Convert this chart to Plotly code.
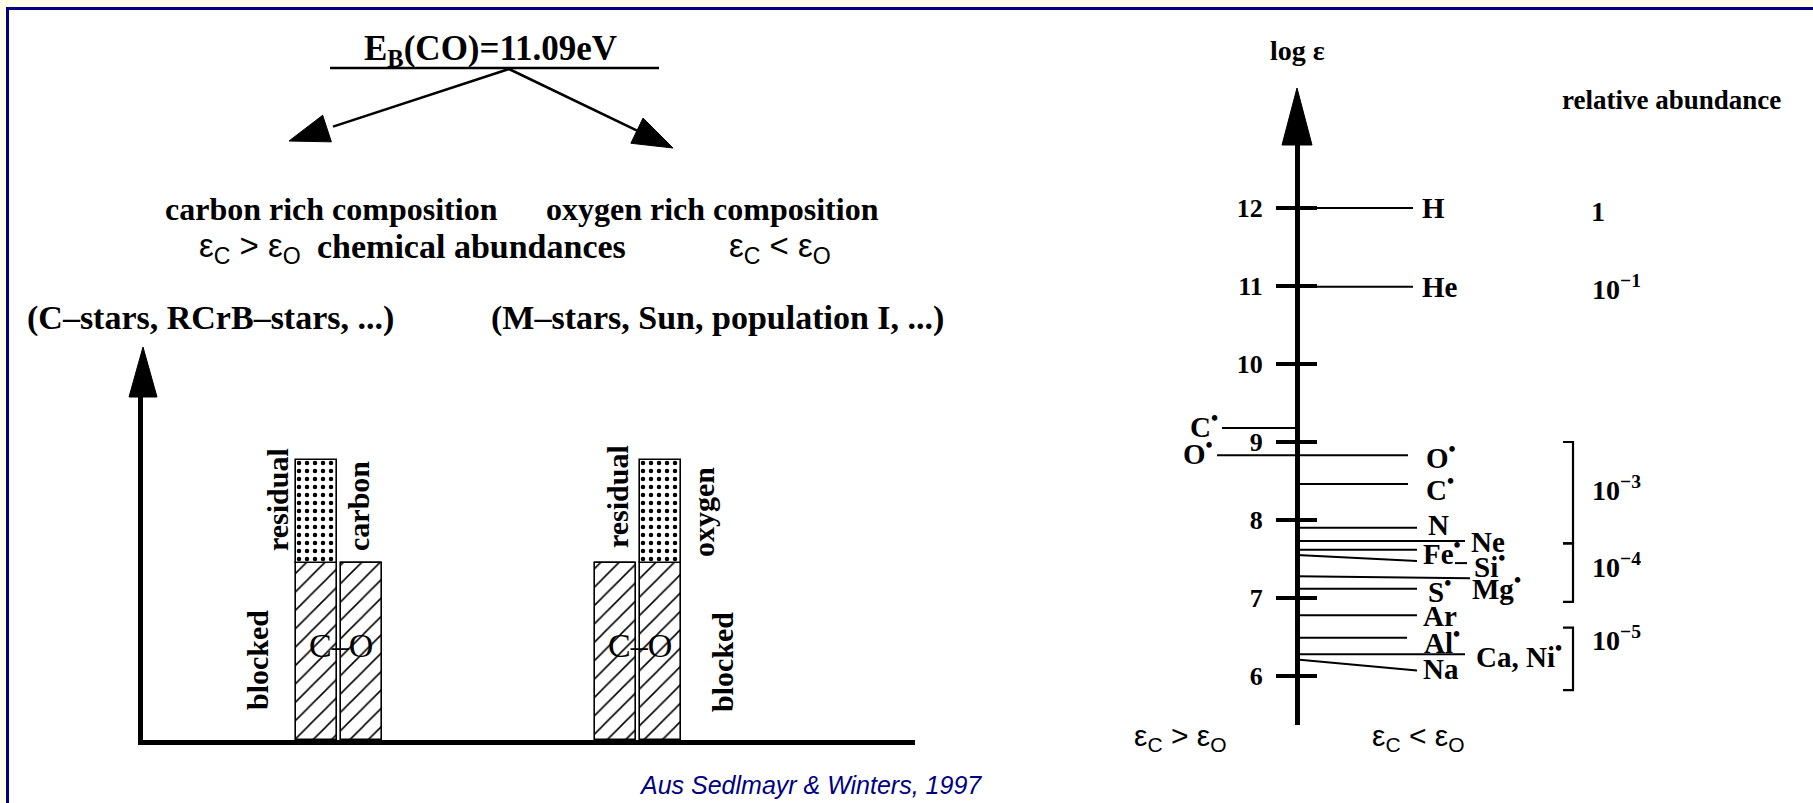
import plotly.graph_objects as go

# ---------------- data ----------------
# Right panel: logarithmic abundances log(eps), hydrogen normalised to 12
right_elements = ["H", "He", "O<sup>•</sup>", "C<sup>•</sup>", "N", "Ne", "Fe<sup>•</sup>",
                  "Si<sup>•</sup>", "Mg<sup>•</sup>", "S<sup>•</sup>", "Ar", "Al<sup>•</sup>",
                  "Ca, Ni<sup>•</sup>", "Na"]
right_log_eps = [12.00, 10.99, 8.83, 8.46, 7.90, 7.73, 7.62, 7.55, 7.28, 7.12, 6.78, 6.49, 6.28, 6.21]

# carbon-rich side of the scale (left of the axis)
left_elements = ["C<sup>•</sup>", "O<sup>•</sup>"]
left_log_eps = [9.18, 8.83]

log_eps_ticks = [6, 7, 8, 9, 10, 11, 12]

# relative abundance classes and the log(eps) spans they bracket
rel_labels = ["1", "10<sup>−1</sup>", "10<sup>−3</sup>", "10<sup>−4</sup>", "10<sup>−5</sup>"]
rel_levels = [11.96, 10.98, 8.40, 7.42, 6.48]
bracket_spans = [(9.00, 7.70), (7.70, 6.95), (6.62, 5.82)]

# Left panel: C and O budget, in units of the CO-blocked amount
column_names = ["residual", "carbon", "residual", "oxygen"]
blocked_co = [1.0, 1.0, 1.0, 1.0]
residual_part = [0.58, 0.0, 0.0, 0.58]

# ---------------- geometry / style ----------------
W, H = 1813, 803
SERIF = "Liberation Serif"
SANS = "Liberation Sans"
INK = "black"

# right scale
AXIS_X = 1297
PX_PER_DEX = 78.0
Y12_PX = 208.0
AX_TOP_PX, AX_BOT_PX = 143.0, 725.0
y2_range = [12 - (AX_BOT_PX - Y12_PX) / PX_PER_DEX, 12 + (Y12_PX - AX_TOP_PX) / PX_PER_DEX]
y2_domain = [(H - AX_BOT_PX) / H, (H - AX_TOP_PX) / H]


def dpx(px):
    """vertical pixel offset (downwards) expressed in dex"""
    return -px / PX_PER_DEX


# left panel
L_AX_X, L_BASE_PX, L_TOP_PX, L_END_X = 143.0, 740.0, 395.0, 915.0
UNIT_PX = 177.0
y3_range = [0, (L_BASE_PX - L_TOP_PX) / UNIT_PX]
y3_domain = [(H - L_BASE_PX) / H, (H - L_TOP_PX) / H]
bar_x = [316.5, 361.5, 615.5, 660.5]
BAR_W = 41

fig = go.Figure()

# ---- bars (hatched blocked part, dotted residual part) ----
fig.add_trace(go.Bar(
    x=bar_x, y=blocked_co, width=BAR_W, xaxis="x3", yaxis="y3",
    marker=dict(color="white", line=dict(color=INK, width=1.6),
                pattern=dict(shape="/", fgcolor=INK, bgcolor="white", size=13,
                             solidity=0.12, fillmode="replace")),
    showlegend=False, hoverinfo="skip"))
fig.add_trace(go.Bar(
    x=bar_x, y=residual_part, base=blocked_co, width=BAR_W, xaxis="x3", yaxis="y3",
    marker=dict(color="white", line=dict(color=INK, width=1.6),
                pattern=dict(shape=".", fgcolor=INK, bgcolor="white", size=8,
                             solidity=0.25, fillmode="replace")),
    showlegend=False, hoverinfo="skip"))

# ---- right panel: element lines ----
right_end_x = [1413, 1413, 1408, 1408, 1417, 1465, 1417, 1417, 1470, 1417, 1417, 1407, 1465, 1417]
right_end_dy = [0, 0, 0, 0, 0, 0, 0, 6, 2, 0, 0, 0, 0, 11]
right_label_x = [1420, 1420, 1424, 1424, 1426, 1469, 1421, 1472, 1470, 1426, 1421, 1422, 1474, 1421]
right_label_dy = [0, 0, 1, 4, -3, 1, 2, 10, 11, 1, 1, 3, 1, 9]

for name, v, xe, edy in zip(right_elements, right_log_eps, right_end_x, right_end_dy):
    fig.add_trace(go.Scatter(
        x=[AXIS_X, xe], y=[v, v + dpx(edy)], xaxis="x", yaxis="y2", mode="lines",
        line=dict(color=INK, width=2), showlegend=False, hoverinfo="skip"))
# short link from the Si line to its label
si = right_elements.index("Si<sup>•</sup>")
fig.add_trace(go.Scatter(
    x=[1455, 1467], y=[right_log_eps[si] + dpx(8)] * 2, xaxis="x", yaxis="y2",
    mode="lines", line=dict(color=INK, width=2), showlegend=False, hoverinfo="skip"))

left_end_x = [1222, 1217]
for v, xe in zip(left_log_eps, left_end_x):
    fig.add_trace(go.Scatter(
        x=[xe, AXIS_X], y=[v, v], xaxis="x", yaxis="y2", mode="lines",
        line=dict(color=INK, width=2), showlegend=False, hoverinfo="skip"))

# brackets for the abundance classes
for top, bot in bracket_spans:
    fig.add_trace(go.Scatter(
        x=[1563, 1573, 1573, 1563], y=[top, top, bot, bot], xaxis="x", yaxis="y2",
        mode="lines", line=dict(color=INK, width=2.2), showlegend=False, hoverinfo="skip"))

# invisible anchor for the mirrored tick axis
fig.add_trace(go.Scatter(x=[AXIS_X], y=[12], xaxis="x", yaxis="y4", mode="markers",
                         marker=dict(opacity=0), showlegend=False, hoverinfo="skip"))

ann = []


def text(x, y, s, size, family=SERIF, xanchor="center", yanchor="middle", angle=0,
         yref="y", color=INK):
    ann.append(dict(x=x, y=y, xref="x", yref=yref, text=s, showarrow=False,
                    font=dict(family=family, size=size, color=color),
                    xanchor=xanchor, yanchor=yanchor, textangle=angle))


for name, v, lx, ldy in zip(right_elements, right_log_eps, right_label_x, right_label_dy):
    text(lx, v + dpx(ldy), f"<b>{name}</b>", 29, xanchor="left", yref="y2")
for name, v, xe in zip(left_elements, left_log_eps, left_end_x):
    text(xe - 2, v + dpx(-3), f"<b>{name}</b>", 29, xanchor="right", yref="y2")
rel_x = [1598, 1616, 1616, 1616, 1616]
for lab, lv, rx in zip(rel_labels, rel_levels, rel_x):
    text(rx, lv, f"<b>{lab}</b>", 28, yref="y2")

text(1297, 50, "<b>log ε</b>", 28)
text(1671, 100, "<b>relative abundance</b>", 27)
text(1180, 737, "ε<sub>C</sub> > ε<sub>O</sub>", 30, family=SANS)
text(1418, 737, "ε<sub>C</sub> < ε<sub>O</sub>", 30, family=SANS)

# left panel texts
text(490, 50, "<b>E<sub>B</sub>(CO)=11.09eV</b>", 35)
text(331, 209, "<b>carbon rich composition</b>", 32)
text(712, 209, "<b>oxygen rich composition</b>", 32)
text(250, 248, "ε<sub>C</sub> > ε<sub>O</sub>", 33, family=SANS)
text(471, 246, "<b>chemical abundances</b>", 34)
text(780, 248, "ε<sub>C</sub> < ε<sub>O</sub>", 33, family=SANS)
text(25, 318, "<b>(C–stars, RCrB–stars, ...)</b>", 34, xanchor="left")
text(946, 318, "<b>(M–stars, Sun, population I, ...)</b>", 34, xanchor="right")

for nm, x, y in [("residual", 277, 500), ("carbon", 358, 506), ("residual", 617, 497),
                 ("oxygen", 703, 512)]:
    text(x, y, f"<b>{nm}</b>", 30, angle=-90)
for x, y in [(257, 660), (722, 662)]:
    text(x, y, "<b>blocked</b>", 30, angle=-90)
for x in [341, 640]:
    text(x, 645, "C–O", 34)

text(810, 785, "<i>Aus Sedlmayr & Winters, 1997</i>", 25, family=SANS, color="#000080")


def arrow_head(x0, y0, x1, y1, length, half):
    dx, dy = x1 - x0, y1 - y0
    d = (dx * dx + dy * dy) ** 0.5
    ux, uy = dx / d, dy / d
    bx, by = x1 - ux * length, y1 - uy * length
    px, py = -uy, ux
    return (f"M {x1},{y1} L {bx + px * half},{by + py * half} "
            f"L {bx - px * half},{by - py * half} Z")


shapes = [
    # page frame
    dict(type="rect", xref="x", yref="y", x0=6, x1=W + 5, y0=7, y1=H + 5,
         fillcolor="white", line=dict(width=0), layer="below"),
    dict(type="rect", xref="x", yref="y", x0=6, x1=W + 5, y0=7, y1=10,
         fillcolor="#000080", line=dict(width=0), layer="below"),
    dict(type="rect", xref="x", yref="y", x0=6, x1=9, y0=7, y1=H + 5,
         fillcolor="#000080", line=dict(width=0), layer="below"),
    # binding energy rule and the two branches
    dict(type="line", xref="x", yref="y", x0=330, x1=659, y0=68, y1=68,
         line=dict(color=INK, width=2.5)),
]
junction = (509, 69)
for tip in [(289, 141), (673, 148)]:
    shapes.append(dict(type="line", xref="x", yref="y", x0=junction[0], y0=junction[1],
                       x1=junction[0] + (tip[0] - junction[0]) * 0.8,
                       y1=junction[1] + (tip[1] - junction[1]) * 0.8,
                       line=dict(color=INK, width=2.5)))
    shapes.append(dict(type="path", xref="x", yref="y",
                       path=arrow_head(junction[0], junction[1], tip[0], tip[1], 40, 14),
                       fillcolor=INK, line=dict(color=INK, width=1)))
# axis arrow heads
shapes.append(dict(type="path", xref="x", yref="y",
                   path=arrow_head(L_AX_X, 500, L_AX_X, 347, 50, 14),
                   fillcolor=INK, line=dict(color=INK, width=1)))
shapes.append(dict(type="path", xref="x", yref="y",
                   path=arrow_head(AXIS_X, 300, AXIS_X, 88, 57, 15),
                   fillcolor=INK, line=dict(color=INK, width=1)))

hidden = dict(showgrid=False, zeroline=False, showticklabels=False, ticks="", showline=False)

fig.update_layout(
    width=W, height=H, margin=dict(l=0, r=0, t=0, b=0),
    paper_bgcolor="#FFFFEA", plot_bgcolor="rgba(0,0,0,0)",
    barmode="overlay", bargap=0,
    xaxis=dict(range=[0, W], domain=[0, 1], **hidden),
    yaxis=dict(range=[H, 0], domain=[0, 1], **hidden),
    xaxis3=dict(range=[L_AX_X, L_END_X], domain=[L_AX_X / W, L_END_X / W], anchor="y3",
                showgrid=False, zeroline=False, showticklabels=False, ticks="",
                showline=True, linewidth=5, linecolor=INK),
    yaxis3=dict(range=y3_range, domain=y3_domain, anchor="x3",
                showgrid=False, zeroline=False, showticklabels=False, ticks="",
                showline=True, linewidth=5, linecolor=INK),
    yaxis2=dict(range=y2_range, domain=y2_domain, anchor="free", position=AXIS_X / W,
                side="left", showgrid=False, zeroline=False, showline=True, linewidth=5,
                linecolor=INK, ticks="outside", ticklen=19, tickwidth=3.5, tickcolor=INK,
                tickvals=log_eps_ticks, ticklabelstandoff=8,
                tickfont=dict(family=SERIF, size=26, color=INK, weight="bold")),
    yaxis4=dict(range=y2_range, domain=y2_domain, anchor="free", position=AXIS_X / W,
                overlaying="y2", side="right", showgrid=False, zeroline=False,
                showline=False, ticks="outside", ticklen=19, tickwidth=3.5, tickcolor=INK,
                tickvals=log_eps_ticks, showticklabels=False),
    annotations=ann, shapes=shapes,
)

fig.write_html("out.html")
